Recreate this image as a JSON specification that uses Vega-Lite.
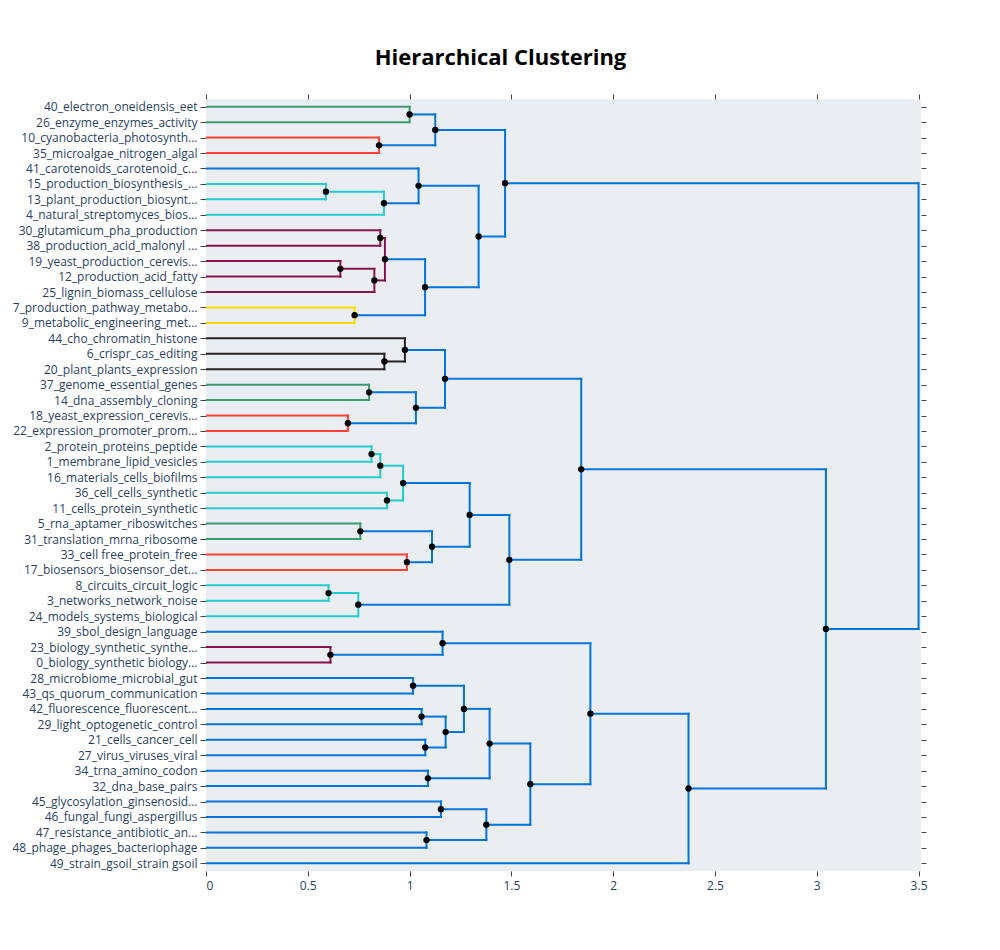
{
  "$schema": "https://vega.github.io/schema/vega-lite/v6.json",
  "autosize": {"type": "none"},
  "width": 715,
  "height": 772,
  "padding": {"left": 206, "top": 99, "right": 79, "bottom": 79},
  "background": "white",
  "title": {"text": "Hierarchical Clustering", "anchor": "middle", "frame": "group", "dx": -63, "offset": 24, "fontSize": 22, "font": "Open Sans", "fontWeight": "bold", "color": "#000000"},
  "config": {
    "view": {"fill": "#eaeef2", "stroke": null},
    "axis": {"grid": false, "domain": false, "tickColor": "#444444", "tickWidth": 1, "labelFont": "Open Sans", "labelFontSize": 12, "labelColor": "#2a3f5f", "labelLimit": 0}
  },
  "data": {"values": [
    {"ya": 5, "xa": 0, "yb": 15, "xb": 0, "h": 1.000, "c": "g", "ny": 10},
    {"ya": 25, "xa": 0, "yb": 35, "xb": 0, "h": 0.850, "c": "r", "ny": 30},
    {"ya": 10, "xa": 1.000, "yb": 30, "xb": 0.850, "h": 1.126, "c": "b", "ny": 20},
    {"ya": 55, "xa": 0, "yb": 65, "xb": 0, "h": 0.589, "c": "c", "ny": 60},
    {"ya": 60, "xa": 0.589, "yb": 75, "xb": 0, "h": 0.874, "c": "c", "ny": 67.5},
    {"ya": 45, "xa": 0, "yb": 67.5, "xb": 0.874, "h": 1.044, "c": "b", "ny": 56.25},
    {"ya": 85, "xa": 0, "yb": 95, "xb": 0, "h": 0.856, "c": "m", "ny": 90},
    {"ya": 105, "xa": 0, "yb": 115, "xb": 0, "h": 0.660, "c": "m", "ny": 110},
    {"ya": 110, "xa": 0.660, "yb": 125, "xb": 0, "h": 0.827, "c": "m", "ny": 117.5},
    {"ya": 90, "xa": 0.856, "yb": 117.5, "xb": 0.827, "h": 0.879, "c": "m", "ny": 103.75},
    {"ya": 135, "xa": 0, "yb": 145, "xb": 0, "h": 0.730, "c": "y", "ny": 140},
    {"ya": 103.75, "xa": 0.879, "yb": 140, "xb": 0.730, "h": 1.076, "c": "b", "ny": 121.875},
    {"ya": 56.25, "xa": 1.044, "yb": 121.875, "xb": 1.076, "h": 1.339, "c": "b", "ny": 89.0625},
    {"ya": 20, "xa": 1.126, "yb": 89.0625, "xb": 1.339, "h": 1.469, "c": "b", "ny": 54.53125},
    {"ya": 165, "xa": 0, "yb": 175, "xb": 0, "h": 0.876, "c": "k", "ny": 170},
    {"ya": 155, "xa": 0, "yb": 170, "xb": 0.876, "h": 0.977, "c": "k", "ny": 162.5},
    {"ya": 185, "xa": 0, "yb": 195, "xb": 0, "h": 0.801, "c": "g", "ny": 190},
    {"ya": 205, "xa": 0, "yb": 215, "xb": 0, "h": 0.697, "c": "r", "ny": 210},
    {"ya": 190, "xa": 0.801, "yb": 210, "xb": 0.697, "h": 1.031, "c": "b", "ny": 200},
    {"ya": 162.5, "xa": 0.977, "yb": 200, "xb": 1.031, "h": 1.174, "c": "b", "ny": 181.25},
    {"ya": 225, "xa": 0, "yb": 235, "xb": 0, "h": 0.813, "c": "c", "ny": 230},
    {"ya": 230, "xa": 0.813, "yb": 245, "xb": 0, "h": 0.856, "c": "c", "ny": 237.5},
    {"ya": 255, "xa": 0, "yb": 265, "xb": 0, "h": 0.889, "c": "c", "ny": 260},
    {"ya": 237.5, "xa": 0.856, "yb": 260, "xb": 0.889, "h": 0.968, "c": "c", "ny": 248.75},
    {"ya": 275, "xa": 0, "yb": 285, "xb": 0, "h": 0.758, "c": "g", "ny": 280},
    {"ya": 295, "xa": 0, "yb": 305, "xb": 0, "h": 0.987, "c": "r", "ny": 300},
    {"ya": 280, "xa": 0.758, "yb": 300, "xb": 0.987, "h": 1.110, "c": "b", "ny": 290},
    {"ya": 248.75, "xa": 0.968, "yb": 290, "xb": 1.110, "h": 1.295, "c": "b", "ny": 269.375},
    {"ya": 315, "xa": 0, "yb": 325, "xb": 0, "h": 0.602, "c": "c", "ny": 320},
    {"ya": 320, "xa": 0.602, "yb": 335, "xb": 0, "h": 0.748, "c": "c", "ny": 327.5},
    {"ya": 269.375, "xa": 1.295, "yb": 327.5, "xb": 0.748, "h": 1.490, "c": "b", "ny": 298.4375},
    {"ya": 181.25, "xa": 1.174, "yb": 298.4375, "xb": 1.490, "h": 1.843, "c": "b", "ny": 239.84375},
    {"ya": 355, "xa": 0, "yb": 365, "xb": 0, "h": 0.611, "c": "m", "ny": 360},
    {"ya": 345, "xa": 0, "yb": 360, "xb": 0.611, "h": 1.162, "c": "b", "ny": 352.5},
    {"ya": 375, "xa": 0, "yb": 385, "xb": 0, "h": 1.017, "c": "b", "ny": 380},
    {"ya": 395, "xa": 0, "yb": 405, "xb": 0, "h": 1.059, "c": "b", "ny": 400},
    {"ya": 415, "xa": 0, "yb": 425, "xb": 0, "h": 1.077, "c": "b", "ny": 420},
    {"ya": 400, "xa": 1.059, "yb": 420, "xb": 1.077, "h": 1.177, "c": "b", "ny": 410},
    {"ya": 380, "xa": 1.017, "yb": 410, "xb": 1.177, "h": 1.267, "c": "b", "ny": 395},
    {"ya": 435, "xa": 0, "yb": 445, "xb": 0, "h": 1.090, "c": "b", "ny": 440},
    {"ya": 395, "xa": 1.267, "yb": 440, "xb": 1.090, "h": 1.393, "c": "b", "ny": 417.5},
    {"ya": 455, "xa": 0, "yb": 465, "xb": 0, "h": 1.154, "c": "b", "ny": 460},
    {"ya": 475, "xa": 0, "yb": 485, "xb": 0, "h": 1.083, "c": "b", "ny": 480},
    {"ya": 460, "xa": 1.154, "yb": 480, "xb": 1.083, "h": 1.377, "c": "b", "ny": 470},
    {"ya": 417.5, "xa": 1.393, "yb": 470, "xb": 1.377, "h": 1.593, "c": "b", "ny": 443.75},
    {"ya": 352.5, "xa": 1.162, "yb": 443.75, "xb": 1.593, "h": 1.888, "c": "b", "ny": 398.125},
    {"ya": 398.125, "xa": 1.888, "yb": 495, "xb": 0, "h": 2.370, "c": "b", "ny": 446.5625},
    {"ya": 239.84375, "xa": 1.843, "yb": 446.5625, "xb": 2.370, "h": 3.045, "c": "b", "ny": 343.203125},
    {"ya": 54.53125, "xa": 1.469, "yb": 343.203125, "xb": 3.045, "h": 3.5, "c": "b", "ny": 198.8671875}
  ]},
  "resolve": {"axis": {"x": "independent", "y": "independent"}},
  "layer": [
    {
      "mark": {"type": "rule", "strokeWidth": 2, "strokeCap": "square", "clip": true},
      "encoding": {
        "x": {"field": "xa", "type": "quantitative", "scale": {"domain": [0, 3.512], "nice": false, "zero": false},
              "axis": {"orient": "bottom", "values": [0, 0.5, 1, 1.5, 2, 2.5, 3, 3.5], "format": "~g", "tickSize": 5, "labelPadding": 4, "title": null}},
        "x2": {"field": "h"},
        "y": {"field": "ya", "type": "quantitative", "scale": {"domain": [0, 500], "nice": false, "zero": false, "reverse": true},
              "axis": {"orient": "left", "values": [5,15,25,35,45,55,65,75,85,95,105,115,125,135,145,155,165,175,185,195,205,215,225,235,245,255,265,275,285,295,305,315,325,335,345,355,365,375,385,395,405,415,425,435,445,455,465,475,485,495],
                       "tickSize": 6, "labelPadding": 3, "title": null, "labelOverlap": false, "labelLimit": 0,
                       "labelExpr": "['40_electron_oneidensis_eet','26_enzyme_enzymes_activity','10_cyanobacteria_photosynth...','35_microalgae_nitrogen_algal','41_carotenoids_carotenoid_c...','15_production_biosynthesis_...','13_plant_production_biosynt...','4_natural_streptomyces_bios...','30_glutamicum_pha_production','38_production_acid_malonyl ...','19_yeast_production_cerevis...','12_production_acid_fatty','25_lignin_biomass_cellulose','7_production_pathway_metabo...','9_metabolic_engineering_met...','44_cho_chromatin_histone','6_crispr_cas_editing','20_plant_plants_expression','37_genome_essential_genes','14_dna_assembly_cloning','18_yeast_expression_cerevis...','22_expression_promoter_prom...','2_protein_proteins_peptide','1_membrane_lipid_vesicles','16_materials_cells_biofilms','36_cell_cells_synthetic','11_cells_protein_synthetic','5_rna_aptamer_riboswitches','31_translation_mrna_ribosome','33_cell free_protein_free','17_biosensors_biosensor_det...','8_circuits_circuit_logic','3_networks_network_noise','24_models_systems_biological','39_sbol_design_language','23_biology_synthetic_synthe...','0_biology_synthetic biology...','28_microbiome_microbial_gut','43_qs_quorum_communication','42_fluorescence_fluorescent...','29_light_optogenetic_control','21_cells_cancer_cell','27_virus_viruses_viral','34_trna_amino_codon','32_dna_base_pairs','45_glycosylation_ginsenosid...','46_fungal_fungi_aspergillus','47_resistance_antibiotic_an...','48_phage_phages_bacteriophage','49_strain_gsoil_strain gsoil'][round((datum.value - 5) / 10)]"}},
        "color": {"field": "c", "type": "nominal", "legend": null,
                  "scale": {"domain": ["b", "c", "g", "k", "m", "r", "y"], "range": ["rgb(0,116,217)", "rgb(35,205,205)", "rgb(61,153,112)", "rgb(40,35,35)", "rgb(133,20,75)", "rgb(255,65,54)", "rgb(255,220,0)"]}}
      }
    },
    {
      "mark": {"type": "rule", "strokeWidth": 2, "strokeCap": "square", "clip": true},
      "encoding": {
        "x": {"field": "xb", "type": "quantitative",
              "axis": {"orient": "top", "values": [0, 0.5, 1, 1.5, 2, 2.5, 3, 3.5], "labels": false, "tickSize": 5, "title": null}},
        "x2": {"field": "h"},
        "y": {"field": "yb", "type": "quantitative",
              "axis": {"orient": "right", "values": [5,15,25,35,45,55,65,75,85,95,105,115,125,135,145,155,165,175,185,195,205,215,225,235,245,255,265,275,285,295,305,315,325,335,345,355,365,375,385,395,405,415,425,435,445,455,465,475,485,495],
                       "labels": false, "tickSize": 5, "title": null}},
        "color": {"field": "c", "type": "nominal", "legend": null}
      }
    },
    {
      "mark": {"type": "rule", "strokeWidth": 2, "strokeCap": "square", "clip": true},
      "encoding": {
        "x": {"field": "h", "type": "quantitative", "axis": null},
        "y": {"field": "ya", "type": "quantitative", "axis": null},
        "y2": {"field": "yb"},
        "color": {"field": "c", "type": "nominal", "legend": null}
      }
    },
    {
      "transform": [{"filter": "datum.h < 3.5"}],
      "mark": {"type": "point", "filled": true, "size": 40, "color": "#000000", "opacity": 1},
      "encoding": {
        "x": {"field": "h", "type": "quantitative", "axis": null},
        "y": {"field": "ny", "type": "quantitative", "axis": null}
      }
    }
  ]
}
